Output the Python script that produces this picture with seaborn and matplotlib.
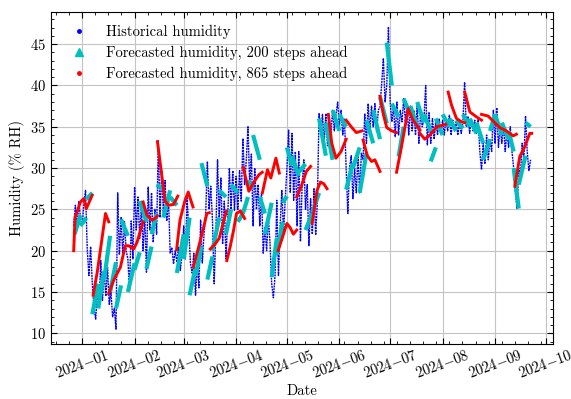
import pandas as pd
import matplotlib
matplotlib.use("Agg")
import matplotlib.pyplot as plt
from matplotlib.ticker import AutoMinorLocator, MultipleLocator, FuncFormatter
from matplotlib.lines import Line2D
import matplotlib.dates as mdates
import seaborn as sns

# ---------------------------------------------------------------------------
# Data
# ---------------------------------------------------------------------------
# Historical humidity (% RH), one reading per day from 2023-12-27
hist_start = "2023-12-27"
hist_values = [
    # Dec 27 - Dec 31
    23.0, 25.5, 22.5, 26.0, 24.0,
    # January
    23.0, 25.5, 27.3, 20.2, 17.0, 20.5, 16.0, 13.0, 11.7, 15.0,
    13.5, 18.8, 14.0, 17.5, 14.5, 18.0, 13.5, 15.0, 12.0, 13.0,
    10.5, 27.0, 19.5, 24.0, 19.5, 23.5, 20.0, 19.0, 15.2, 23.6, 19.0,
    # February
    27.7, 22.5, 26.5, 21.5, 25.5, 20.0, 24.4, 17.4, 27.7, 22.5,
    27.0, 21.0, 25.0, 22.0, 33.3, 24.0, 29.7, 24.5, 28.5, 23.6,
    26.5, 19.7, 20.4, 18.4, 20.0, 18.6, 20.4, 17.6, 19.5,
    # March
    23.0, 19.0, 26.5, 22.5, 18.5, 17.3, 19.7, 14.6, 18.5, 15.5,
    23.7, 18.5, 22.0, 24.5, 30.8, 25.0, 27.8, 23.7, 16.0, 22.0,
    31.0, 24.0, 28.8, 20.8, 26.0, 19.0, 24.0, 30.0, 25.0, 29.7, 24.9,
    # April
    29.0, 25.0, 29.7, 26.0, 33.6, 28.0, 31.0, 35.0, 28.0, 31.7,
    23.0, 30.0, 25.0, 28.0, 23.0, 27.0, 19.7, 22.9, 20.0, 24.0,
    21.0, 16.0, 14.3, 17.0, 26.1, 17.0, 23.0, 27.3, 22.2, 26.0,
    # May
    30.0, 34.6, 27.0, 34.2, 26.1, 32.0, 23.0, 32.0, 21.1, 28.0,
    31.0, 25.0, 28.0, 20.6, 26.3, 22.0, 27.5, 21.9, 26.0, 36.6,
    34.2, 36.5, 33.0, 36.6, 32.7, 35.5, 34.0, 37.0, 34.5, 36.5, 38.0,
    # June
    35.0, 37.0, 34.0, 36.0, 30.0, 24.5, 30.0, 31.5, 26.3, 30.0,
    27.0, 31.5, 27.0, 31.8, 31.0, 36.6, 33.0, 37.8, 34.3, 37.5,
    35.0, 37.8, 34.3, 37.0, 37.4, 40.2, 43.3, 38.0, 40.0, 47.1,
    # July
    38.0, 35.6, 37.5, 33.8, 38.0, 34.0, 37.0, 35.6, 38.4, 35.6,
    37.5, 34.0, 37.5, 34.5, 37.0, 34.0, 37.6, 33.0, 36.7, 35.0,
    36.0, 40.0, 32.8, 36.7, 33.0, 36.0, 33.5, 35.8, 34.0, 36.0, 34.2,
    # August
    35.8, 34.0, 36.0, 34.5, 36.4, 34.0, 35.8, 34.5, 35.7, 34.0,
    35.5, 34.2, 35.5, 40.4, 35.0, 36.2, 34.2, 36.0, 34.5, 35.8,
    34.2, 36.0, 32.0, 29.8, 33.0, 30.5, 34.0, 31.0, 33.5, 32.0, 37.0,
    # September
    33.0, 37.3, 32.5, 35.0, 33.0, 35.3, 32.0, 34.5, 32.5, 35.0,
    32.0, 30.0, 27.0, 25.1, 30.0, 29.0, 33.0, 31.0, 36.3, 32.0,
    29.7, 31.0,
]

# Forecast runs, 200 steps ahead (days counted from 2024-01-01)
fc200_day_start = [
    -4.5, -1, 2.5, 6, 9.5, 13, 16.5, 20, 23, 27, 31, 34, 38, 41, 44, 48,
    52, 56, 60, 63.5, 67, 70.5, 74, 77, 81, 85, 88, 92, 95, 98, 101, 105,
    108, 112, 115, 118.5, 121, 124, 128, 132, 136, 140, 144, 148, 152, 156,
    160, 164, 168, 172, 176, 180, 183, 187, 190, 194, 198, 202, 206, 209,
    213, 217, 221, 225, 229, 233, 237, 241, 244, 248, 252, 255, 258, 262,
]
fc200_day_end = [
    -1, 2.5, 6, 9.5, 13, 16.5, 20, 23, 27, 31, 34, 38, 41, 44, 48, 52,
    56, 60, 63.5, 67, 70.5, 74, 77, 81, 85, 88, 92, 95, 98, 101, 105, 108,
    112, 115, 118.5, 121, 124, 128, 132, 136, 140, 144, 148, 152, 156, 160,
    164, 168, 172, 176, 180, 183, 187, 190, 194, 198, 202, 206, 209, 213,
    217, 221, 225, 229, 233, 237, 241, 244, 248, 252, 255, 258, 262, 265,
]
fc200_val_start = [
    22.0, 23.0, 26.2, 12.3, 13.0, 16.5, 15.0, 13.0, 23.8, 15.0, 17.7, 26.0,
    17.8, 22.0, 28.0, 24.0, 26.5, 17.3, 19.0, 14.6, 17.0, 30.6, 16.5, 20.0,
    27.3, 22.0, 28.0, 23.5, 24.5, 28.5, 34.0, 26.5, 22.0, 16.8, 19.5, 25.8,
    32.5, 31.5, 29.5, 22.5, 24.6, 36.0, 35.5, 37.0, 36.5, 27.4, 30.0, 27.0,
    35.8, 37.0, 38.6, 45.2, 37.8, 31.4, 38.4, 37.5, 38.0, 36.5, 30.8, 36.0,
    36.5, 36.0, 35.8, 36.5, 36.0, 35.5, 31.0, 34.5, 36.5, 35.5, 34.5, 30.0,
    28.0, 35.5,
]
fc200_val_end = [
    24.3, 24.0, 27.0, 16.0, 17.5, 21.8, 18.6, 15.8, 21.8, 18.5, 19.8, 23.5,
    20.5, 24.5, 27.5, 27.3, 25.5, 22.0, 24.0, 18.0, 20.5, 27.8, 19.3, 24.0,
    26.5, 25.0, 27.0, 24.5, 26.5, 27.5, 31.0, 24.5, 25.8, 21.5, 23.5, 26.6,
    30.3, 29.0, 30.5, 24.5, 27.0, 31.5, 31.0, 34.5, 35.0, 30.6, 32.5, 31.8,
    33.0, 33.5, 35.4, 40.0, 36.2, 35.0, 36.4, 35.0, 35.5, 34.5, 32.5, 34.0,
    35.0, 34.5, 34.8, 35.0, 34.2, 33.0, 33.5, 36.5, 34.0, 33.5, 32.0, 25.1,
    31.5, 35.0,
]

# Forecast runs, 865 steps ahead (days counted from 2024-01-01)
fc865_days = [
    [-5, -4.2, -1, 0.9, 2.5, 5.9],
    [6.5, 9, 11.4, 13.8, 15.7],
    [15.7, 18.6, 22.6, 25.5, 27.5, 30.4, 32.4, 36],
    [36, 38.3, 41.3, 43, 44.4],
    [44.5, 46.5, 49, 51, 54, 56.5],
    [55.8, 57.8, 60.8, 62.7, 63.9, 65.5],
    [65.7, 68.4, 71.4, 73.7, 75.1],
    [75.7, 78.5, 81, 83.5, 85.3],
    [85.5, 87.5, 89.5, 91.2, 93.5, 96],
    [95.2, 98.5, 101.5, 104.5, 106.4],
    [106.5, 109.5, 111.5, 114.5, 116.5],
    [115.8, 118.2, 121, 122.9, 124.8, 126.8],
    [126.8, 129.5, 132.5, 135],
    [135.9, 138.8, 140.8, 142.8, 144.7],
    [145.5, 147.5, 150, 153, 156],
    [156, 159, 162, 165.3],
    [166, 168.5, 171, 173, 176],
    [176, 178, 180, 183, 185.8],
    [185.8, 188.8, 192.7, 195.6, 199.6],
    [199.6, 202.5, 205.5, 209.6, 214.9],
    [216.3, 218.3, 221.2, 224.2, 226.1],
    [226.1, 229.1, 233, 236],
    [236, 239.9, 242.8, 246.8, 250.7, 254.7, 256.6],
    [255.7, 258.6, 261.6, 264.5, 265.7],
]
fc865_values = [
    [20.0, 24.0, 25.9, 26.3, 25.1, 26.7],
    [14.6, 17.5, 21.0, 24.5, 23.5],
    [14.8, 16.4, 18.0, 20.6, 20.6, 20.2, 21.0, 23.5],
    [25.9, 24.3, 23.7, 23.9, 24.2],
    [33.2, 30.0, 26.0, 25.5, 25.6, 26.6],
    [20.1, 23.7, 26.1, 27.1, 26.3, 25.3],
    [18.0, 20.1, 22.5, 24.5, 24.6],
    [20.2, 20.8, 21.5, 23.5, 24.8],
    [18.8, 20.5, 22.5, 24.5, 24.8, 23.9],
    [30.1, 27.2, 28.3, 29.2, 29.5],
    [27.0, 29.8, 28.8, 31.2, 29.4],
    [20.0, 21.5, 23.3, 22.8, 22.0, 22.5],
    [26.5, 27.8, 29.6, 30.2],
    [23.3, 27.3, 28.3, 28.1, 27.5],
    [36.5, 33.0, 31.2, 32.0, 33.5],
    [35.8, 35.0, 34.3, 34.5],
    [33.4, 31.5, 30.8, 31.0, 29.6],
    [38.7, 36.5, 34.9, 34.5, 34.3],
    [29.5, 32.7, 37.2, 35.8, 34.6],
    [34.2, 33.5, 34.0, 35.0, 35.3],
    [39.2, 37.6, 36.0, 35.6, 35.5],
    [39.2, 36.8, 36.2, 35.8],
    [36.5, 36.3, 35.7, 34.9, 34.5, 33.9, 34.1],
    [27.8, 31.4, 32.6, 34.2, 34.2],
]

legend_labels = [
    "Historical humidity",
    "Forecasted humidity, 200 steps ahead",
    "Forecasted humidity, 865 steps ahead",
]

# ---------------------------------------------------------------------------
# Tables for seaborn
# ---------------------------------------------------------------------------
origin = pd.Timestamp("2024-01-01")

hist_df = pd.DataFrame({
    "date": pd.date_range(hist_start, periods=len(hist_values), freq="D"),
    "humidity": hist_values,
})

rows = []
for k, (d0, d1, v0, v1) in enumerate(zip(fc200_day_start, fc200_day_end,
                                         fc200_val_start, fc200_val_end)):
    rows.append((k, d0, v0))
    rows.append((k, d1, v1))
fc200_df = pd.DataFrame(rows, columns=["run", "day", "humidity"])
fc200_df["date"] = origin + pd.to_timedelta(fc200_df["day"], unit="D")

rows = []
for k, (days, vals) in enumerate(zip(fc865_days, fc865_values)):
    for d, v in zip(days, vals):
        rows.append((k, d, v))
fc865_df = pd.DataFrame(rows, columns=["run", "day", "humidity"])
fc865_df["date"] = origin + pd.to_timedelta(fc865_df["day"], unit="D")

# ---------------------------------------------------------------------------
# Style (serif, inward ticks on all sides)
# ---------------------------------------------------------------------------
plt.rcParams.update({
    "font.family": ["cmr10", "DejaVu Serif"],
    "mathtext.fontset": "cm",
    "axes.formatter.use_mathtext": True,
    "font.size": 10.5,
    "axes.linewidth": 0.8,
    "xtick.direction": "in",
    "ytick.direction": "in",
    "xtick.top": True,
    "ytick.right": True,
    "xtick.major.size": 4,
    "ytick.major.size": 4,
    "xtick.minor.size": 2,
    "ytick.minor.size": 2,
    "xtick.major.width": 0.8,
    "ytick.major.width": 0.8,
    "xtick.minor.width": 0.6,
    "ytick.minor.width": 0.6,
    "legend.frameon": False,
})

fig = plt.figure(figsize=(5.71, 3.99), dpi=100)
ax = fig.add_axes([0.0893, 0.1378, 0.8792, 0.8322])

sns.lineplot(data=hist_df, x="date", y="humidity", ax=ax, color="b",
             lw=1.0, linestyle=(0, (1.4, 0.6)), zorder=2)
sns.lineplot(data=fc200_df, x="date", y="humidity", units="run",
             estimator=None, ax=ax, color="c", lw=3.0, zorder=3,
             solid_capstyle="butt")
sns.lineplot(data=fc865_df, x="date", y="humidity", units="run",
             estimator=None, ax=ax, color="r", lw=2.1, zorder=4)

ax.set_xlim(pd.Timestamp("2023-12-13 14:00"), pd.Timestamp("2024-10-05 06:00"))
ax.set_ylim(8.7, 48.9)

ax.xaxis.set_major_locator(mdates.MonthLocator())
ax.xaxis.set_minor_locator(AutoMinorLocator(4))
ax.xaxis.set_major_formatter(FuncFormatter(
    lambda x, pos: r"$\mathdefault{%s}$"
    % mdates.num2date(x).strftime("%Y-%m").replace("-", "{-}")))
ax.yaxis.set_major_locator(MultipleLocator(5))
ax.yaxis.set_minor_locator(AutoMinorLocator(5))
ax.tick_params(axis="x", which="major", labelrotation=20, pad=2.5)

ax.grid(True, which="major", color="#c4c4c4", lw=0.8)
ax.set_axisbelow(True)

ax.set_xlabel("Date", labelpad=2)
ax.set_ylabel("Humidity (% RH)")

handles = [
    Line2D([], [], color="b", marker=".", ls="none", ms=5),
    Line2D([], [], color="c", marker="^", ls="none", ms=6),
    Line2D([], [], color="r", marker=".", ls="none", ms=5),
]
ax.legend(handles, legend_labels, loc="upper left", handlelength=2.1,
          labelspacing=0.45)

fig.savefig("out.png", dpi=100)
